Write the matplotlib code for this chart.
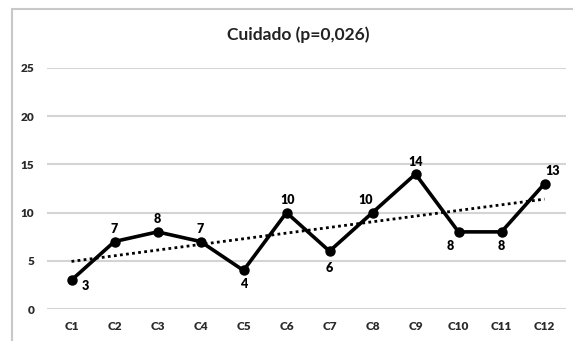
import numpy as np
import matplotlib.pyplot as plt
from matplotlib.patches import Rectangle

plt.rcParams['font.family'] = ['Lato', 'DejaVu Sans']

# data
categories = ['C1', 'C2', 'C3', 'C4', 'C5', 'C6', 'C7', 'C8', 'C9', 'C10', 'C11', 'C12']
values = [3, 7, 8, 7, 4, 10, 6, 10, 14, 8, 8, 13]
title = 'Cuidado (p=0,026)'

# where each data label sits relative to its point (points offset)
label_offsets = [(10, -4), (0, 9), (0, 9), (0, 9), (0, -10), (1, 9),
                 (0, -12), (-5, 9), (0, 9), (-6, -10), (0, -10), (6, 9)]

fig = plt.figure(figsize=(5.73, 3.41), dpi=100)
fig.patch.set_facecolor('white')

# outer chart frame
fig.patches.append(Rectangle((12/573, -0.05), 1.0, 1 - 9/341 + 0.05,
                             transform=fig.transFigure, fill=False,
                             edgecolor='#c8c8c8', linewidth=1.5))

ax = fig.add_axes([47/573, 1 - 309/341, 519/573, (309 - 68)/341])
x = np.arange(len(categories))

ax.plot(x, values, color='black', lw=2.6, marker='o', markersize=6.5, zorder=3)

# linear trend line
slope, intercept = np.polyfit(x, values, 1)
ax.plot(x, slope * x + intercept, color='black', lw=2, ls=(0, (1, 1.2)), zorder=2)

for xi, v, off in zip(x, values, label_offsets):
    ax.annotate(str(v), (xi, v), xytext=off, textcoords='offset points',
                ha='center', va='center', fontsize=9, fontweight='heavy', color='black')

ax.set_xlim(-0.57, len(categories) - 0.5)
ax.set_ylim(0, 25)
ax.set_yticks([0, 5, 10, 15, 20, 25])
ax.set_xticks(x)
ax.set_xticklabels(categories)
ax.grid(axis='y', color='#d4d4d4', lw=1.5)
ax.set_axisbelow(True)
for s in ax.spines.values():
    s.set_visible(False)
ax.tick_params(length=0, labelsize=8.5, labelcolor='#2a2a2a', pad=9)
ax.tick_params(axis='y', pad=9)
for lbl in ax.get_xticklabels() + ax.get_yticklabels():
    lbl.set_fontweight('heavy')

fig.text(298/573, 1 - 35/341, title, ha='center', va='center',
         fontsize=12.5, fontweight='bold', color='#222222')

fig.savefig('out.png', dpi=100)
